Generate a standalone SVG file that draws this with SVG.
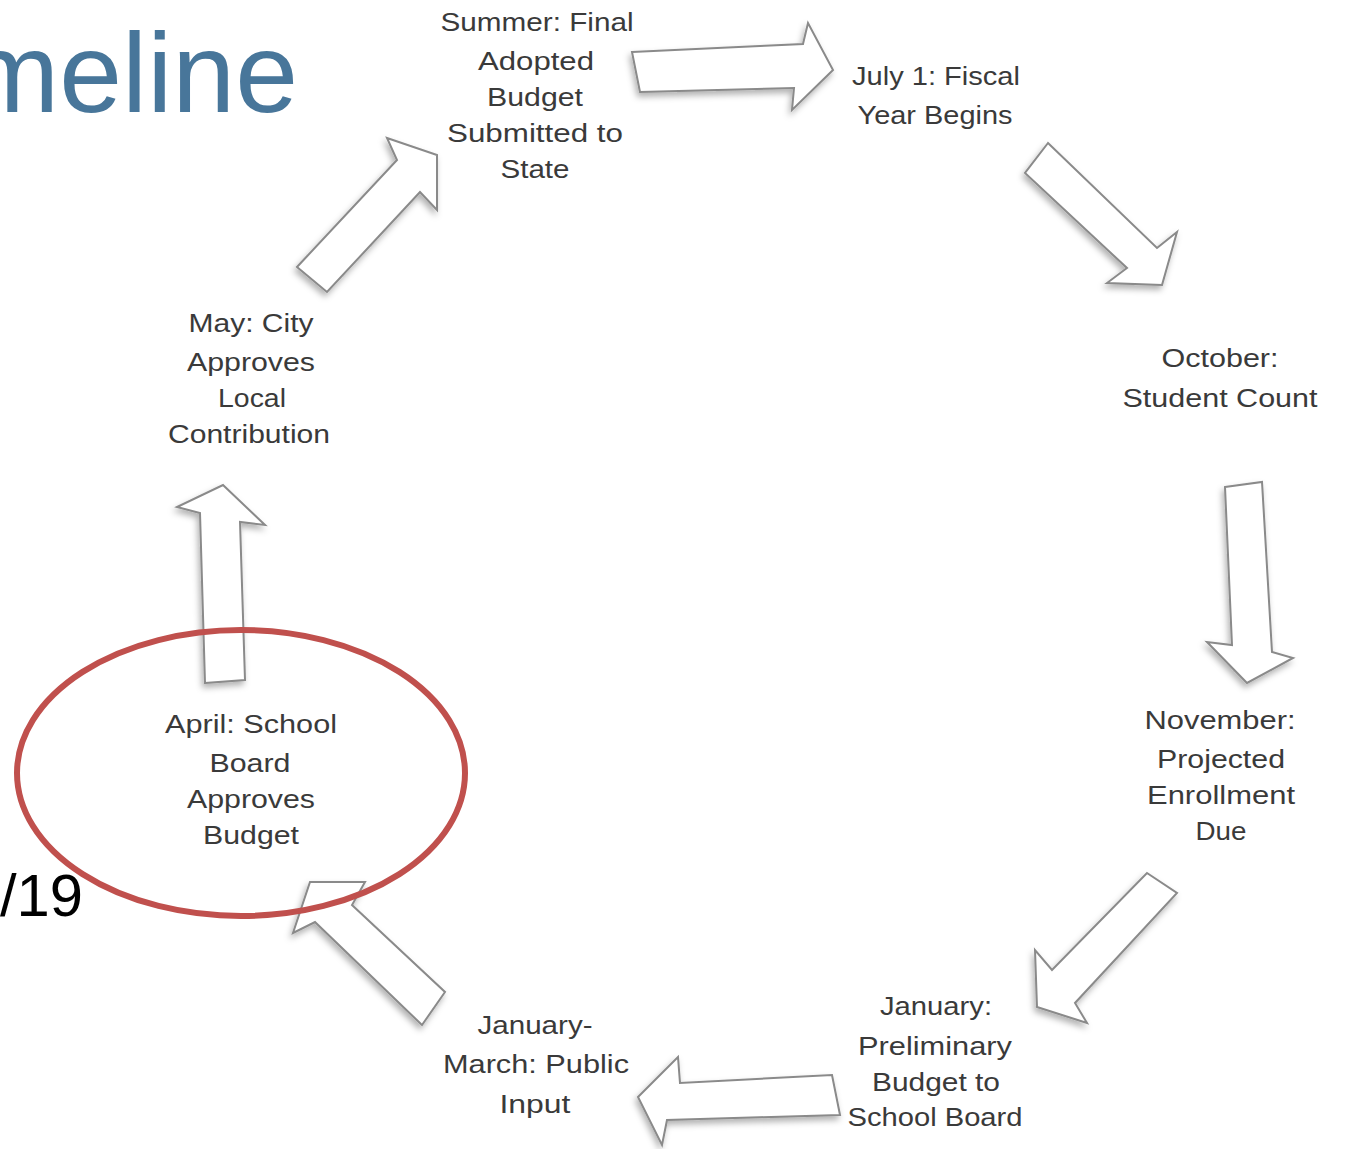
<svg xmlns="http://www.w3.org/2000/svg" width="1345" height="1149" viewBox="0 0 1345 1149">
<style>
.lbl{font-family:"Liberation Sans",Arial,sans-serif;font-size:25px;fill:#3a3a3a;text-anchor:middle}
.arr{fill:#ffffff;stroke:#8a8a8a;stroke-width:2;stroke-linejoin:miter;filter:url(#sh)}
</style>
<defs>
<filter id="sh" x="-20%" y="-20%" width="140%" height="140%">
<feDropShadow dx="-2" dy="4" stdDeviation="3" flood-color="#000" flood-opacity="0.3"/>
</filter>
</defs>
<rect width="1345" height="1149" fill="#ffffff"/>
<text x="298" y="112" font-family="Liberation Sans,Arial,sans-serif" font-size="113" fill="#48769A" text-anchor="end">meline</text>
<text x="0" y="916" font-family="Liberation Sans,Arial,sans-serif" font-size="60" fill="#000000" textLength="83" lengthAdjust="spacingAndGlyphs">/19</text>
<g id="connectors">
<polygon class="arr" points="632,52 803,44 808,23 833,70 792,110 794,88 640,92"/>
<polygon class="arr" points="1048,143 1025,173 1127,268 1107,283 1162,285 1177,232 1157,248"/>
<polygon class="arr" points="1225,487 1262,482 1272,652 1293,658 1247,683 1207,642 1232,645"/>
<polygon class="arr" points="1147,873 1177,893 1075,1003 1087,1023 1037,1007 1035,950 1052,970"/>
<polygon class="arr" points="840,1115 832,1075 680,1083 678,1057 638,1097 662,1145 667,1120"/>
<polygon class="arr" points="422,1025 445,992 352,905 365,882 310,882 293,933 315,922"/>
<polygon class="arr" points="205,683 245,680 240,522 265,525 223,485 177,507 200,513"/>
<polygon class="arr" points="297,267 327,292 420,192 437,210 437,155 387,138 397,160"/>
</g>
<ellipse cx="241" cy="773" rx="224" ry="143" fill="none" stroke="#C0504D" stroke-width="6"/>
<g id="node-summer">
<text class="lbl" x="537" y="31" textLength="193" lengthAdjust="spacingAndGlyphs">Summer: Final</text>
<text class="lbl" x="536" y="70" textLength="116" lengthAdjust="spacingAndGlyphs">Adopted</text>
<text class="lbl" x="535" y="106" textLength="96" lengthAdjust="spacingAndGlyphs">Budget</text>
<text class="lbl" x="535" y="142" textLength="176" lengthAdjust="spacingAndGlyphs">Submitted to</text>
<text class="lbl" x="535" y="178" textLength="69" lengthAdjust="spacingAndGlyphs">State</text>
</g>
<g id="node-july">
<text class="lbl" x="936" y="85" textLength="168" lengthAdjust="spacingAndGlyphs">July 1: Fiscal</text>
<text class="lbl" x="935" y="124" textLength="155" lengthAdjust="spacingAndGlyphs">Year Begins</text>
</g>
<g id="node-october">
<text class="lbl" x="1220" y="367" textLength="117" lengthAdjust="spacingAndGlyphs">October:</text>
<text class="lbl" x="1220" y="407" textLength="195" lengthAdjust="spacingAndGlyphs">Student Count</text>
</g>
<g id="node-november">
<text class="lbl" x="1220" y="729" textLength="151" lengthAdjust="spacingAndGlyphs">November:</text>
<text class="lbl" x="1221" y="768" textLength="128" lengthAdjust="spacingAndGlyphs">Projected</text>
<text class="lbl" x="1221" y="804" textLength="148" lengthAdjust="spacingAndGlyphs">Enrollment</text>
<text class="lbl" x="1221" y="840" textLength="51" lengthAdjust="spacingAndGlyphs">Due</text>
</g>
<g id="node-january">
<text class="lbl" x="936" y="1015" textLength="112" lengthAdjust="spacingAndGlyphs">January:</text>
<text class="lbl" x="935" y="1055" textLength="154" lengthAdjust="spacingAndGlyphs">Preliminary</text>
<text class="lbl" x="936" y="1091" textLength="128" lengthAdjust="spacingAndGlyphs">Budget to</text>
<text class="lbl" x="935" y="1126" textLength="175" lengthAdjust="spacingAndGlyphs">School Board</text>
</g>
<g id="node-jan-march">
<text class="lbl" x="535" y="1034" textLength="115" lengthAdjust="spacingAndGlyphs">January-</text>
<text class="lbl" x="536" y="1073" textLength="186" lengthAdjust="spacingAndGlyphs">March: Public</text>
<text class="lbl" x="535" y="1113" textLength="71" lengthAdjust="spacingAndGlyphs">Input</text>
</g>
<g id="node-april">
<text class="lbl" x="251" y="733" textLength="172" lengthAdjust="spacingAndGlyphs">April: School</text>
<text class="lbl" x="250" y="772" textLength="81" lengthAdjust="spacingAndGlyphs">Board</text>
<text class="lbl" x="251" y="808" textLength="128" lengthAdjust="spacingAndGlyphs">Approves</text>
<text class="lbl" x="251" y="844" textLength="96" lengthAdjust="spacingAndGlyphs">Budget</text>
</g>
<g id="node-may">
<text class="lbl" x="251" y="332" textLength="125" lengthAdjust="spacingAndGlyphs">May: City</text>
<text class="lbl" x="251" y="371" textLength="128" lengthAdjust="spacingAndGlyphs">Approves</text>
<text class="lbl" x="252" y="407" textLength="68" lengthAdjust="spacingAndGlyphs">Local</text>
<text class="lbl" x="249" y="443" textLength="162" lengthAdjust="spacingAndGlyphs">Contribution</text>
</g>
</svg>
